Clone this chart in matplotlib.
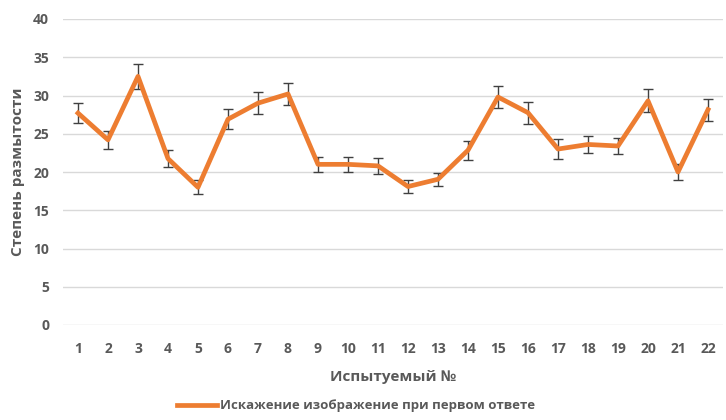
import matplotlib
matplotlib.use("Agg")
import matplotlib.pyplot as plt
from matplotlib.lines import Line2D

plt.rcParams['font.family'] = ['Open Sans', 'DejaVu Sans']

subjects = [str(i) for i in range(1, 23)]
blur_values = [27.7, 24.2, 32.5, 21.75, 18.0, 26.9, 29.0, 30.2, 21.0, 21.0, 20.8,
               18.1, 19.05, 22.85, 29.8, 27.75, 23.0, 23.6, 23.4, 29.3, 20.0, 28.15]
blur_errors = [1.3, 1.2, 1.6, 1.15, 0.9, 1.3, 1.45, 1.4, 1.0, 1.0, 1.0,
               0.87, 0.85, 1.25, 1.45, 1.45, 1.25, 1.1, 1.1, 1.5, 1.0, 1.45]
y_ticks = [0, 5, 10, 15, 20, 25, 30, 35, 40]

text_color = '#595959'
line_color = '#ED7D31'

fig = plt.figure(figsize=(7.26, 4.2), dpi=100)
ax = fig.add_axes([63 / 726, 1 - 325 / 420, 660 / 726, 306 / 420])

x = list(range(len(subjects)))
ax.errorbar(x, blur_values, yerr=blur_errors, color=line_color, lw=3.4,
            ecolor='#404040', elinewidth=1.0, capsize=3.5, capthick=1.0,
            solid_joinstyle='round', zorder=3)

ax.set_xlim(-0.5, len(subjects) - 0.5)
ax.set_ylim(0, 40)
ax.set_yticks(y_ticks)
ax.set_xticks(x)
ax.set_xticklabels(subjects)
ax.grid(axis='y', color='#D9D9D9', lw=1.0)
ax.set_axisbelow(True)
for s in ax.spines.values():
    s.set_visible(False)
ax.tick_params(axis='both', length=0, colors=text_color, labelsize=10)
ax.tick_params(axis='x', pad=12)
ax.tick_params(axis='y', pad=10)
for lab in ax.get_xticklabels() + ax.get_yticklabels():
    lab.set_fontweight('bold')

ax.set_xlabel('Испытуемый №', color=text_color, fontsize=11, fontweight='bold', labelpad=10)
ax.set_ylabel('Степень размытости', color=text_color, fontsize=11, fontweight='bold', labelpad=6)

handle = Line2D([], [], color=line_color, lw=3.4)
fig.legend([handle], ['Искажение изображение при первом ответе'], loc='center',
           bbox_to_anchor=(356 / 726, 1 - 406 / 420), frameon=False,
           prop={'size': 9.5, 'weight': 'bold'}, labelcolor=text_color,
           handlelength=3.0, handletextpad=0.2)

fig.savefig('out.png', dpi=100)
